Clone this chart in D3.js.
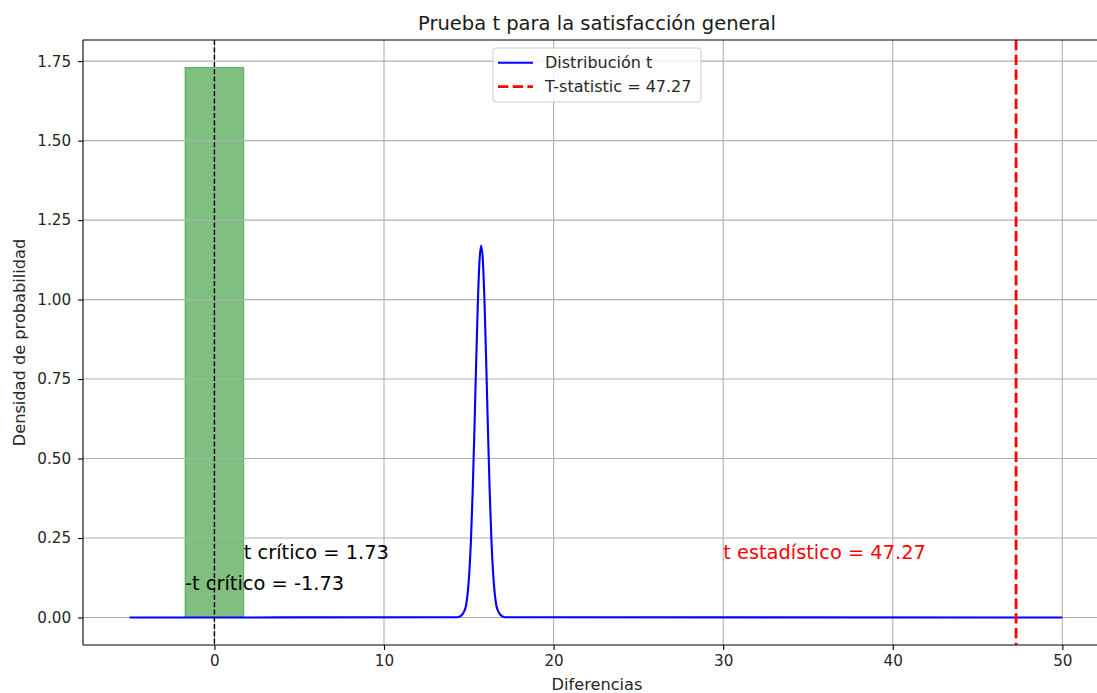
<!DOCTYPE html>
<html>
<head>
<meta charset="utf-8">
<script src="https://cdn.jsdelivr.net/npm/d3@7"></script>
<style>
  body { margin: 0; background: #fff; }
  svg { font-family: "DejaVu Sans", sans-serif; }
</style>
</head>
<body>
<svg id="chart"></svg>
<script>
// values
let curveX = [-5, 14.33, 14.53, 14.73, 14.83, 14.93, 15.03, 15.13, 15.23, 15.33, 15.43, 15.53, 15.63, 15.73,
              15.83, 15.93, 16.03, 16.13, 16.23, 16.33, 16.43, 16.53, 16.63, 16.73, 16.93, 17.13, 50];
let curveY = [0, 0.001, 0.005, 0.02, 0.036, 0.075, 0.142, 0.249, 0.399, 0.588, 0.795, 0.985, 1.121, 1.17,
              1.121, 0.985, 0.795, 0.588, 0.399, 0.249, 0.142, 0.075, 0.036, 0.02, 0.005, 0.001, 0];
let tCritico = 1.73;
let tStat = 47.27;
let xTicks = [0, 10, 20, 30, 40, 50];
let yTicks = [0, 0.25, 0.5, 0.75, 1.0, 1.25, 1.5, 1.75];

let svgWidth = 1097, svgHeight = 693;
let plotLeft = 83, plotRight = 1109, plotTop = 40, plotBottom = 645;

let svg = d3.select('#chart')
    .attr('width', svgWidth)
    .attr('height', svgHeight);

let x = d3.scaleLinear().domain([-7.75, 52.75]).range([plotLeft, plotRight]);
let y = d3.scaleLinear().domain([-0.0865, 1.8165]).range([plotBottom, plotTop]);

// green region
svg.append('rect')
    .attr('x', x(-tCritico))
    .attr('y', y(tCritico))
    .attr('width', x(tCritico) - x(-tCritico))
    .attr('height', y(0) - y(tCritico))
    .attr('fill', 'green')
    .attr('fill-opacity', 0.5)
    .attr('stroke', 'green')
    .attr('stroke-opacity', 0.5)
    .attr('stroke-width', 1);

// grid
svg.append('g').selectAll('line')
    .data(xTicks)
    .enter()
    .append('line')
    .attr('x1', d => x(d)).attr('x2', d => x(d))
    .attr('y1', plotTop).attr('y2', plotBottom)
    .attr('stroke', '#b0b0b0').attr('stroke-width', 1.1);

svg.append('g').selectAll('line')
    .data(yTicks)
    .enter()
    .append('line')
    .attr('x1', plotLeft).attr('x2', plotRight)
    .attr('y1', d => y(d)).attr('y2', d => y(d))
    .attr('stroke', '#b0b0b0').attr('stroke-width', 1.1);

// t distribution
let points = curveX.map((d, i) => [d, curveY[i]]);
let line = d3.line()
    .x(d => x(d[0]))
    .y(d => y(d[1]))
    .curve(d3.curveMonotoneX);

svg.append('path')
    .attr('d', line(points))
    .attr('fill', 'none')
    .attr('stroke', 'blue')
    .attr('stroke-width', 2.1);

// vertical lines
svg.append('line')
    .attr('x1', x(0)).attr('x2', x(0))
    .attr('y1', plotTop).attr('y2', plotBottom)
    .attr('stroke', 'black').attr('stroke-width', 1.4)
    .attr('stroke-dasharray', '5.1,2.2');

svg.append('line')
    .attr('x1', x(tStat)).attr('x2', x(tStat))
    .attr('y1', plotTop).attr('y2', plotBottom)
    .attr('stroke', 'red').attr('stroke-width', 2.8)
    .attr('stroke-dasharray', '10.3,4.4');

// annotations
svg.append('text')
    .attr('x', x(tCritico)).attr('y', y(0.183))
    .attr('font-size', 19.4).attr('fill', 'black')
    .text('t crítico = ' + tCritico.toFixed(2));

svg.append('text')
    .attr('x', x(-tCritico)).attr('y', y(0.085))
    .attr('font-size', 19.4).attr('fill', 'black')
    .text('-t crítico = ' + (-tCritico).toFixed(2));

svg.append('text')
    .attr('x', x(30)).attr('y', y(0.183))
    .attr('font-size', 19.4).attr('fill', 'red')
    .text('t estadístico = ' + tStat.toFixed(2));

// axes
let xAxis = d3.axisBottom(x).tickValues(xTicks).tickSize(4.9).tickPadding(5.5).tickFormat(d3.format('d'));
let yAxis = d3.axisLeft(y).tickValues(yTicks).tickSize(4.9).tickPadding(7).tickFormat(d3.format('.2f'));

let gx = svg.append('g').attr('transform', 'translate(0,' + plotBottom + ')').call(xAxis);
let gy = svg.append('g').attr('transform', 'translate(' + plotLeft + ',0)').call(yAxis);

[gx, gy].forEach(g => {
    g.select('.domain').remove();
    g.selectAll('text').attr('font-size', 15.2).attr('fill', '#262626').attr('font-family', 'DejaVu Sans');
    g.selectAll('line').attr('stroke', 'black').attr('stroke-width', 1.1);
});

// spines
svg.append('line').attr('x1', plotLeft).attr('x2', plotRight).attr('y1', plotTop).attr('y2', plotTop)
    .attr('stroke', 'black').attr('stroke-width', 1.1);
svg.append('line').attr('x1', plotLeft).attr('x2', plotRight).attr('y1', plotBottom).attr('y2', plotBottom)
    .attr('stroke', 'black').attr('stroke-width', 1.1);
svg.append('line').attr('x1', plotLeft).attr('x2', plotLeft).attr('y1', plotTop).attr('y2', plotBottom)
    .attr('stroke', 'black').attr('stroke-width', 1.1);
svg.append('line').attr('x1', plotRight).attr('x2', plotRight).attr('y1', plotTop).attr('y2', plotBottom)
    .attr('stroke', 'black').attr('stroke-width', 1.1);

// title and labels
svg.append('text')
    .attr('x', 597).attr('y', 30)
    .attr('text-anchor', 'middle').attr('font-size', 19.5).attr('fill', '#1a1a1a')
    .text('Prueba t para la satisfacción general');

svg.append('text')
    .attr('x', 597).attr('y', 690)
    .attr('text-anchor', 'middle').attr('font-size', 16.2).attr('fill', '#262626')
    .text('Diferencias');

svg.append('text')
    .attr('transform', 'translate(25,' + ((plotTop + plotBottom) / 2) + ') rotate(-90)')
    .attr('text-anchor', 'middle').attr('font-size', 16.2).attr('fill', '#262626')
    .text('Densidad de probabilidad');

// legend
let legend = svg.append('g').attr('transform', 'translate(493,48)');
legend.append('rect')
    .attr('width', 208).attr('height', 54).attr('rx', 3)
    .attr('fill', 'white').attr('fill-opacity', 0.8)
    .attr('stroke', '#cccccc').attr('stroke-width', 1);

let legendItems = [
    {label: 'Distribución t', color: 'blue', dash: null, width: 2.1},
    {label: 'T-statistic = ' + tStat.toFixed(2), color: 'red', dash: '10.3,4.4', width: 2.8}
];

legendItems.forEach(function(d, i) {
    let cy = 14.7 + i * 24;
    legend.append('line')
        .attr('x1', 5).attr('x2', 40)
        .attr('y1', cy).attr('y2', cy)
        .attr('stroke', d.color).attr('stroke-width', d.width)
        .attr('stroke-dasharray', d.dash);
    legend.append('text')
        .attr('x', 52).attr('y', cy + 5.6)
        .attr('font-size', 16).attr('fill', '#262626')
        .text(d.label);
});
</script>
</body>
</html>
